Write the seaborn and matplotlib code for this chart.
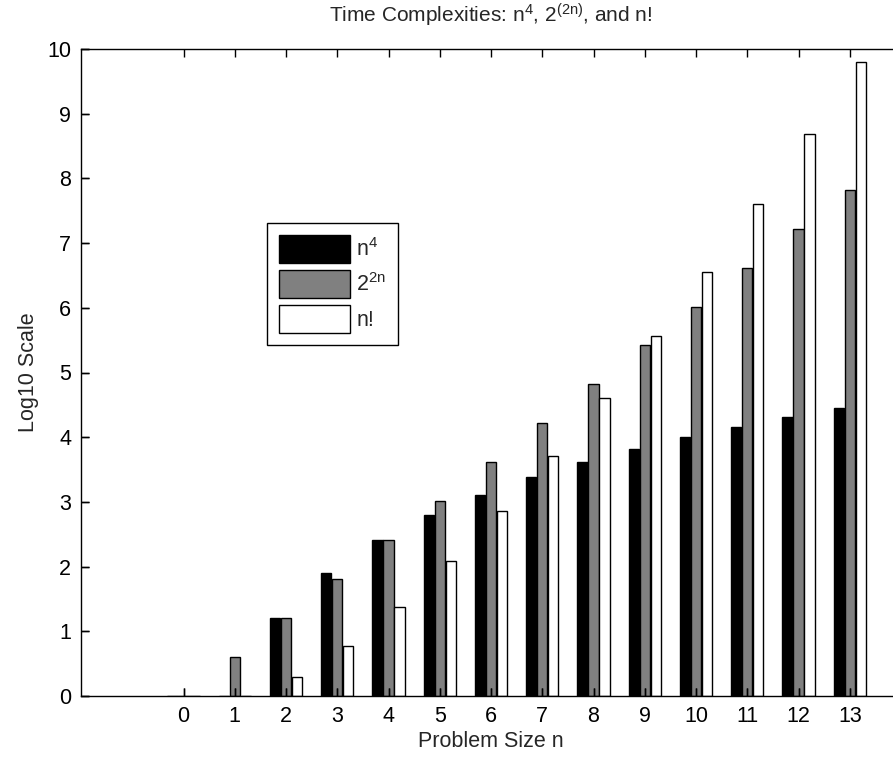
import matplotlib
matplotlib.use("Agg")
import matplotlib.pyplot as plt
import seaborn as sns
import pandas as pd

# values (log10 scale)
sizes = list(range(14))
quartic = [0, 0, 1.204, 1.908, 2.408, 2.796, 3.113, 3.380, 3.612, 3.817, 4.0, 4.165, 4.317, 4.456]
exp2 = [0, 0.602, 1.204, 1.806, 2.408, 3.010, 3.612, 4.214, 4.816, 5.418, 6.020, 6.622, 7.225, 7.827]
fact = [0, 0, 0.301, 0.778, 1.380, 2.079, 2.857, 3.702, 4.606, 5.560, 6.560, 7.601, 8.680, 9.794]
series = ["n$^4$", "2$^{2n}$", "n!"]

df = pd.DataFrame({"n": sizes * 3,
                   "value": quartic + exp2 + fact,
                   "series": [series[0]] * 14 + [series[1]] * 14 + [series[2]] * 14})

sns.set_style("ticks")
plt.rcParams["font.family"] = ["Liberation Sans", "DejaVu Sans"]
plt.rcParams["mathtext.default"] = "regular"
plt.rcParams["axes.linewidth"] = 1.0
plt.rcParams["axes.axisbelow"] = False

fig = plt.figure(figsize=(8.93, 7.57), dpi=100)
ax = fig.add_axes([81 / 893, 61 / 757, 820 / 893, 647 / 757])

sns.barplot(data=df, x="n", y="value", hue="series", hue_order=series,
            palette=["black", "#808080", "white"], saturation=1,
            width=0.645, gap=0.07, edgecolor="black", linewidth=1.0, ax=ax)

ax.set_xlim(-2, 14)
ax.set_ylim(0, 10)
ax.set_yticks(range(11))
for s in ax.spines.values():
    s.set_visible(True)
    s.set_color("black")
ax.tick_params(which="major", direction="in", length=6, width=1.0,
               top=True, right=True, bottom=True, left=True,
               labelsize=15.5, color="black", labelcolor="black", pad=7)
ax.set_xlabel("Problem Size n", fontsize=15.5, labelpad=3)
ax.set_ylabel("Log10 Scale", fontsize=15.5, labelpad=6)
ax.set_title("Time Complexities: n$^4$, 2$^{(2n)}$, and n!", fontsize=15, pad=19)

# bottom / left inward tick marks drawn as short lines at the tick positions
ax.vlines(ax.get_xticks(), 0, 0.0124, transform=ax.get_xaxis_transform(),
          colors="black", linewidth=1.0, clip_on=False, zorder=6)
ax.hlines(ax.get_yticks(), 0, 0.0098, transform=ax.get_yaxis_transform(),
          colors="black", linewidth=1.0, clip_on=False, zorder=6)

handles, labels = ax.get_legend_handles_labels()
leg = ax.legend(handles, labels, loc="upper left", bbox_to_anchor=(0.227, 0.731),
                borderaxespad=0, fontsize=15.5, handlelength=3.3, handleheight=1.6,
                labelspacing=0.35, handletextpad=0.3, borderpad=0.55,
                fancybox=False, framealpha=1, edgecolor="black")
leg.get_frame().set_linewidth(1.0)

fig.savefig("out.png", dpi=100)
